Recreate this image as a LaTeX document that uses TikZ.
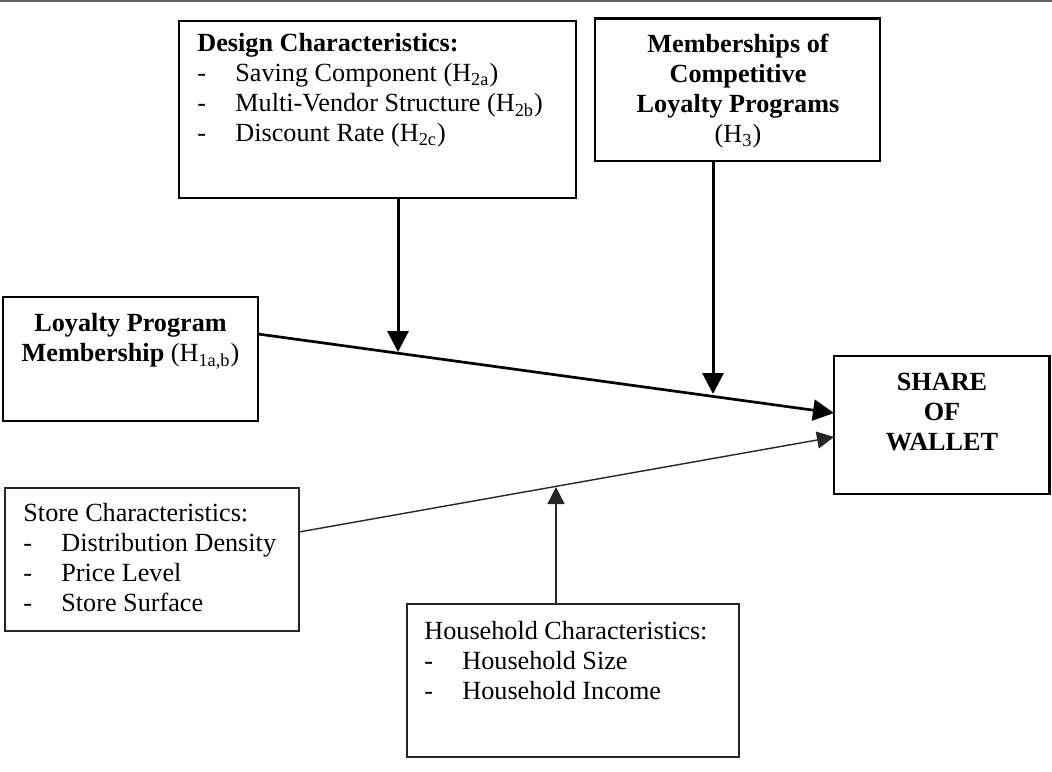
\documentclass[tikz,border=0pt]{standalone}
\usepackage{fontspec}
\setmainfont{Liberation Serif}
\usetikzlibrary{arrows.meta,calc}

\newcommand{\itemdash}{\makebox[19pt][l]{-}}

\begin{document}
\begin{tikzpicture}[x=0.5pt,y=-0.5pt,
        font=\fontsize{13.1}{15}\selectfont,
        heavybox/.style={draw,line width=1.25pt,outer sep=0pt,inner sep=0pt,anchor=north west},
        lightbox/.style={draw=black!85,line width=0.75pt,outer sep=0pt,inner sep=0pt,anchor=north west},
        boxtext/.style={inner sep=0pt,anchor=north west,align=left},
        midtext/.style={inner sep=0pt,anchor=north,align=center,font=\fontsize{13.1}{15}\selectfont\bfseries},
        heavyarrow/.style={-{Triangle[length=10.5pt,width=10.5pt]},line width=1.5pt},
        lightarrow/.style={-{Triangle[length=8.5pt,width=8.5pt]},line width=0.7pt,draw=black!85,fill=black!85}]
        \useasboundingbox (0,0) rectangle (1052,771);

        \coordinate (ruleL) at (0,1);
        \coordinate (ruleR) at (1052,1);
        \coordinate (dtip) at (398,352);
        \coordinate (mtip) at (713,394);
        \coordinate (htip) at (556,487);

        % boxes
        \node[heavybox,minimum width=198.5pt,minimum height=88.5pt] (design) at (179,21) {};
        \node[heavybox,minimum width=142.5pt,minimum height=71.25pt] (members) at (595,18.5) {};
        \node[heavybox,minimum width=127.5pt,minimum height=62pt] (lpm) at (3,297) {};
        \node[heavybox,minimum width=107.75pt,minimum height=69pt] (share) at (834,356) {};
        \node[lightbox,minimum width=147pt,minimum height=71.5pt] (store) at (5,488) {};
        \node[lightbox,minimum width=166pt,minimum height=76.5pt] (house) at (407,604) {};

        % texts
        \node[boxtext] (designtext) at (197,33) {\textbf{Design Characteristics:}\\
            \itemdash Saving Component (H\textsubscript{2a})\\
            \itemdash Multi-Vendor Structure (H\textsubscript{2b})\\
            \itemdash Discount Rate (H\textsubscript{2c})};
        \node[midtext] (memberstext) at (738,34) {Memberships of\\ Competitive\\ Loyalty Programs\\ \mdseries(H\textsubscript{3})};
        \node[midtext] (lpmtext) at (130.5,313) {Loyalty Program\\ Membership \mdseries(H\textsubscript{1a,b})};
        \node[midtext] (sharetext) at (942,373) {SHARE\\ OF\\ WALLET};
        \node[boxtext] (storetext) at (23,503) {Store Characteristics:\\
            \itemdash Distribution Density\\
            \itemdash Price Level\\
            \itemdash Store Surface};
        \node[boxtext] (housetext) at (424,621) {Household Characteristics:\\
            \itemdash Household Size\\
            \itemdash Household Income};

        \coordinate (lpmout) at (lpm.north east |- 0,334);
        \coordinate (shin1) at (share.north west |- 0,413);
        \coordinate (storeout) at (store.north east |- 0,532);
        \coordinate (shin2) at (share.north west |- 0,437);

        \draw[black!60,line width=0.75pt] (ruleL)--(ruleR);
        \draw[heavyarrow,line width=1.35pt] (lpmout)--(shin1);
        \draw[lightarrow] (storeout)--(shin2);
        \draw[heavyarrow] (design.south -| dtip)--(dtip);
        \draw[heavyarrow] (members.south -| mtip)--(mtip);
        \draw[lightarrow] (house.north -| htip)--(htip);

    \end{tikzpicture}
\end{document}
